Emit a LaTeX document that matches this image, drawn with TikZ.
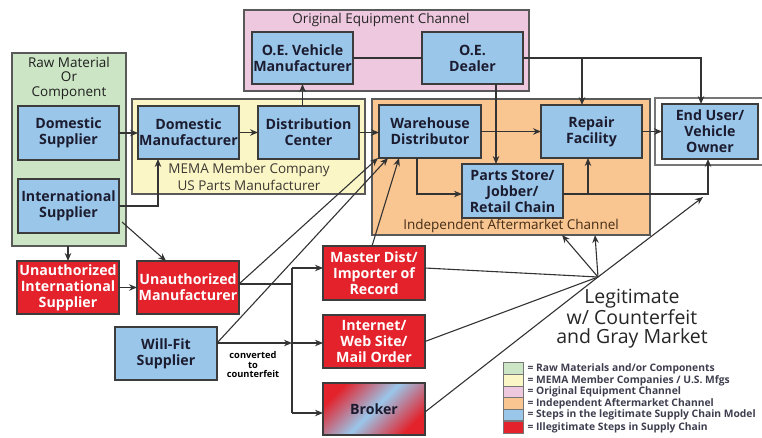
\documentclass[tikz,border=0pt]{standalone}
\usepackage{fontspec}
\setmainfont{Open Sans}
\usetikzlibrary{arrows.meta,calc}
\definecolor{gC}{HTML}{CCE5C4}
\definecolor{yC}{HTML}{FAF6C6}
\definecolor{pC}{HTML}{EEC8DF}
\definecolor{oC}{HTML}{F9C591}
\definecolor{bC}{HTML}{9AC6EA}
\definecolor{rC}{HTML}{E3222B}
\definecolor{lineC}{HTML}{333333}
\definecolor{edgeC}{HTML}{3C3C3C}
\definecolor{txtC}{HTML}{1C1C30}
\begin{document}
\begin{tikzpicture}[x=1pt,y=-1pt,
  region/.style={draw=edgeC!85, line width=1.3pt, inner sep=0pt, outer sep=0pt},
  box/.style={draw=edgeC, line width=1.3pt, inner sep=0pt, outer sep=0pt, align=center,
     minimum width=101pt, minimum height=53pt, font=\fontsize{14.2}{16}\selectfont\bfseries},
  bluebox/.style={box, fill=bC, text=txtC},
  redbox/.style={box, fill=rC, text=white},
  title/.style={align=center, font=\fontsize{13.5}{14.5}\selectfont},
  arr/.style={draw=lineC, line width=1.1pt, -{Stealth[length=8pt,width=6.5pt]}},
  ln/.style={draw=lineC, line width=1.1pt},
  swatch/.style={draw=edgeC!70, line width=0.6pt, minimum width=20pt, minimum height=11.5pt, inner sep=0pt},
  legtxt/.style={anchor=west, inner sep=0pt, text=txtC!85, font=\fontsize{10.3}{11}\selectfont\bfseries}
]
\useasboundingbox (0,0) rectangle (762,437);

% regions
\node[region, fill=gC, minimum width=114pt, minimum height=193pt] (green) at (69,149.5) {};
\node[region, fill=yC, minimum width=233pt, minimum height=95pt] (yellow) at (248.5,146.5) {};
\node[region, fill=pC, minimum width=285pt, minimum height=81pt] (pink) at (386.5,50.5) {};
\node[region, fill=oC, minimum width=278pt, minimum height=136pt] (orange) at (511,167) {};
\node[region, fill=white, draw=edgeC!70, minimum width=120pt, minimum height=67pt] (frame) at (715,131.5) {};

% region titles
\node[title, text=black!88] (tRaw) at (69,78) {Raw Material\\Or\\Component};
\node[title, text=black!80!yellow!60!black, font=\fontsize{13.5}{17}\selectfont] (tMema) at (249,176.5) {MEMA Member Company\\US Parts Manufacturer};
\node[title, text=black!85] (tOE) at (381,20) {Original Equipment Channel};
\node[title, text=black!65!brown] (tIA) at (511,226) {Independent Aftermarket Channel};

% blue boxes
\node[bluebox, minimum height=54pt] (dsup) at (68.5,133) {Domestic\\Supplier};
\node[bluebox, minimum height=54pt] (isup) at (68.5,206) {International\\Supplier};
\node[bluebox] (dmfr) at (188.5,132.5) {Domestic\\Manufacturer};
\node[bluebox] (dc) at (308.5,132.5) {Distribution\\Center};
\node[bluebox, minimum height=52pt] (oevm) at (302.5,58) {O.E. Vehicle\\Manufacturer};
\node[bluebox, minimum height=52pt] (oed) at (472.5,58) {O.E.\\Dealer};
\node[bluebox, minimum width=102pt] (wd) at (430,131.5) {Warehouse\\Distributor};
\node[bluebox] (rf) at (591.5,131.5) {Repair\\Facility};
\node[bluebox, minimum height=54pt] (ps) at (512.5,191) {Parts Store/\\Jobber/\\Retail Chain};
\node[bluebox, minimum width=96pt, minimum height=55pt] (eu) at (710,131.5) {End User/\\Vehicle\\Owner};
\node[bluebox, minimum width=102pt] (wf) at (166,353.5) {Will-Fit\\Supplier};

% red boxes
\node[redbox, minimum width=102pt] (uis) at (68,287.5) {Unauthorized\\International\\Supplier};
\node[redbox, minimum width=102pt] (um) at (188,287.5) {Unauthorized\\Manufacturer};
\node[redbox, minimum width=102pt, minimum height=54pt] (md) at (374,273) {Master Dist/\\Importer of\\Record};
\node[redbox, minimum width=102pt] (io) at (374,341.5) {Internet/\\Web Site/\\Mail Order};
\node[box, minimum width=102pt, minimum height=52pt, text=txtC, shading=axis, top color=rC, bottom color=rC, middle color=bC, shading angle=45] (br) at (374,409) {Broker};

% connectors upper part
\draw[arr] (dsup.east) -- (dsup.east -| dmfr.west);
\coordinate (dmB) at ([xshift=-30.5pt]dmfr.south);
\draw[arr] (isup.east) -| (dmB);
\draw[arr] (dmfr.east) -- (dc.west);
\draw[arr] (oevm.south |- dc.north) -- (oevm.south);
\draw[arr] (dc.east) -- (dc.east -| wd.west);
\draw[ln] (oevm.east) -- (oed.west);
\coordinate (oedB) at ([xshift=23.5pt]oed.south);
\draw[arr] (oedB) -- (oedB |- ps.north);
\coordinate (euT) at ([xshift=-9pt]eu.north);
\draw[arr] (oed.east) -| (euT);
\coordinate (rfT) at ([xshift=-9.5pt]rf.north);
\draw[arr] (rfT |- oed.east) -- (rfT);
\draw[arr] (wd.east) -- (rf.west);
\coordinate (wdB) at ([xshift=-13pt]wd.south);
\coordinate (psL) at ([yshift=-3pt]ps.west);
\draw[arr] (wdB) |- (psL);
\coordinate (psR) at ([yshift=-3pt]ps.east);
\coordinate (euB) at ([xshift=-2pt]eu.south);
\draw[arr] (psR) -| (euB);
\coordinate (rfB) at ([xshift=-3.5pt]rf.south);
\draw[arr] (rfB |- psR) -- (rfB);
\draw[arr] (rf.east) -- (eu.west);

% lower left
\draw[arr] (uis.north |- green.south) -- (uis.north);
\coordinate (isO) at ([shift={(3,-11)}]isup.south east);
\coordinate (umT) at ([xshift=-22pt]um.north);
\draw[arr] (isO) -- (umT);
\draw[arr] (uis.east) -- (um.west);

% distribution bus
\coordinate (umR) at ([yshift=3.5pt]um.east);
\coordinate (vT) at (292,268);
\coordinate (vB) at (292,413);
\coordinate (mdL) at ([yshift=5pt]md.west);
\coordinate (brL) at ([yshift=-4pt]br.west);
\coordinate (wfR) at ([yshift=10.5pt]wf.east);
\draw[ln] (umR) -- (umR -| vT);
\draw[ln] (vT) -- (vB);
\draw[arr] (vT) -- (mdL);
\draw[arr] (vB) -- (brL);
\draw[arr] (wfR) -- (wfR -| vT);
\draw[arr] (wfR -| vT) -- (wfR -| io.west);
\node[align=center, inner sep=0pt, font=\fontsize{9.3}{9.5}\selectfont\bfseries] (conv) at (253,365) {converted\\to\\counterfeit};

% diagonals to warehouse distributor
\coordinate (t1) at ([xshift=-1pt]wd.south west);
\coordinate (t2) at ([xshift=9pt]wd.south west);
\coordinate (t3) at ([xshift=20pt]wd.south west);
\draw[arr] (umR) -- (t1);
\draw[arr] (wfR) -- (t2);
\draw[arr] ([xshift=-2pt]md.north) -- (t3);

% converging
\coordinate (P) at (598,277);
\draw[ln] ([yshift=5pt]md.east) -- (P);
\draw[ln] (io.east) -- (P);
\draw[ln] ([yshift=-3pt]br.east) -- (P);
\coordinate (o1) at ([xshift=51pt]orange.south);
\coordinate (o2) at ([xshift=84pt]orange.south);
\coordinate (euX) at (703,197);
\draw[arr] (P) -- (o1);
\draw[arr] (P) -- (o2);
\draw[arr] (P) -- (euX);

\node[align=center, text=black!85, font=\fontsize{19.5}{19.5}\selectfont] (legit) at (632,319) {Legitimate\\w/ Counterfeit\\and Gray Market};

% legend
\node[swatch, fill=gC] (s1) at (513,368.5) {};
\node[swatch, fill=yC] (s2) at (513,380.5) {};
\node[swatch, fill=pC] (s3) at (513,392) {};
\node[swatch, fill=oC] (s4) at (513,403.5) {};
\node[swatch, fill=bC] (s5) at (513,415) {};
\node[swatch, fill=rC] (s6) at (513,427.5) {};
\node[legtxt] at ([xshift=4pt]s1.east) {= Raw Materials and/or Components};
\node[legtxt] at ([xshift=4pt]s2.east) {= MEMA Member Companies / U.S. Mfgs};
\node[legtxt] at ([xshift=4pt]s3.east) {= Original Equipment Channel};
\node[legtxt] at ([xshift=4pt]s4.east) {= Independent Aftermarket Channel};
\node[legtxt] at ([xshift=4pt]s5.east) {= Steps in the legitimate Supply Chain Model};
\node[legtxt] at ([xshift=4pt]s6.east) {= Illegitimate Steps in Supply Chain};
\end{tikzpicture}
\end{document}
